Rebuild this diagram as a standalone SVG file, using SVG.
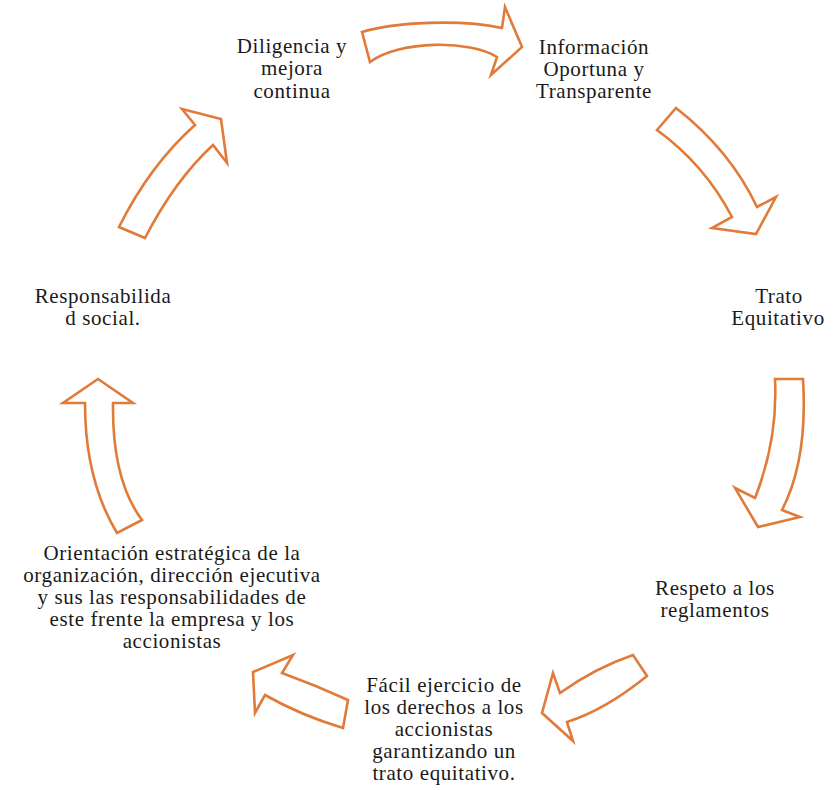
<svg xmlns="http://www.w3.org/2000/svg" width="835" height="790" viewBox="0 0 835 790">
<style>
.arr{fill:#ffffff;stroke:#E07B39;stroke-width:2.6;stroke-linejoin:miter}
.t{font-family:"Liberation Serif","Times New Roman",serif;font-size:21px;letter-spacing:0.6px;fill:#1a1a1a;text-anchor:middle}
</style>
<rect width="835" height="790" fill="#ffffff"/>
<g id="connectors">
<path class="arr" d="M362,32 C395,22 460,19 502,28 L505,7 L522,47 L491,75 L497,57 C470,40 400,40 370,62 Z"/>
<path class="arr" d="M657,130 L676,108 Q730,150 757,207 L776,197 L756,234 L712,228 L732,217 Q705,165 657,130 Z"/>
<path class="arr" d="M775,379 L803,379 Q808,460 782,510 L800,517 L758,527 L735,488 L755,498 Q778,440 775,379 Z"/>
<path class="arr" d="M633,655 Q595,668 560,693 L553,673 L542,713 L573,741 L567,722 Q605,710 647,676 Z"/>
<path class="arr" d="M253,672 L293,655 L282,673 Q315,685 348,700 L343,728 Q300,715 265,695 L255,713 Z"/>
<path class="arr" d="M98,379 L133,403 L113,403 Q112,480 142,520 L117,533 Q85,480 85,403 L63,403 Z"/>
<path class="arr" d="M119,227 Q150,165 195,125 L182,109 L221,119 L227,163 L213,145 Q175,180 145,238 Z"/>
</g>
<g id="n1"><text class="t" x="292" y="53">Diligencia y</text><text class="t" x="292" y="75">mejora</text><text class="t" x="292" y="98">continua</text></g>
<g id="n2"><text class="t" x="594" y="54">Información</text><text class="t" x="594" y="76">Oportuna y</text><text class="t" x="594" y="98">Transparente</text></g>
<g id="n3"><text class="t" x="779" y="303">Trato</text><text class="t" x="778" y="325">Equitativo</text></g>
<g id="n4"><text class="t" x="715" y="595">Respeto a los</text><text class="t" x="715" y="617">reglamentos</text></g>
<g id="n5"><text class="t" x="444" y="692">Fácil ejercicio de</text><text class="t" x="444" y="714">los derechos a los</text><text class="t" x="444" y="736">accionistas</text><text class="t" x="444" y="758">garantizando un</text><text class="t" x="444" y="780">trato equitativo.</text></g>
<g id="n6"><text class="t" x="172" y="560">Orientación estratégica de la</text><text class="t" x="172" y="582">organización, dirección ejecutiva</text><text class="t" x="172" y="604">y sus las responsabilidades de</text><text class="t" x="172" y="626">este frente la empresa y los</text><text class="t" x="172" y="648">accionistas</text></g>
<g id="n7"><text class="t" x="103" y="303">Responsabilida</text><text class="t" x="103" y="325">d social.</text></g>
</svg>
